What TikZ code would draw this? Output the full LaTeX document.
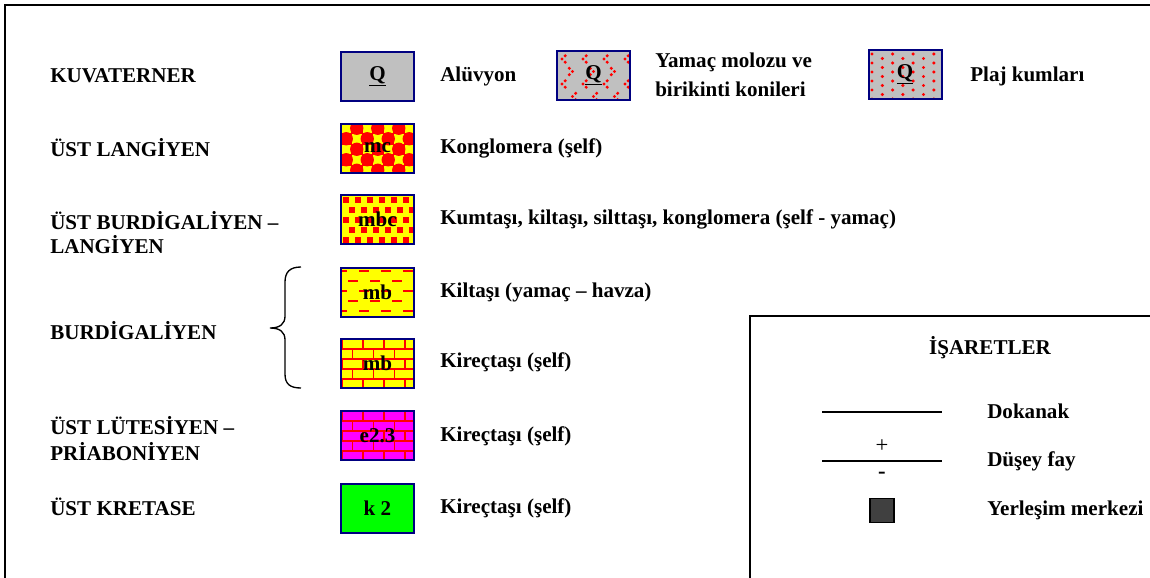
\documentclass[tikz,border=0pt]{standalone}
\usepackage{fontspec}
\setmainfont{Liberation Serif}
\definecolor{navy}{RGB}{0,0,128}
\definecolor{swgray}{RGB}{192,192,192}
\definecolor{lred}{RGB}{255,0,0}
\definecolor{lyellow}{RGB}{255,255,0}
\definecolor{lmagenta}{RGB}{255,0,255}
\definecolor{lgreen}{RGB}{0,255,0}
\definecolor{settle}{RGB}{64,64,64}
\begin{document}
\begin{tikzpicture}[x=0.75pt,y=-0.75pt,font=\fontsize{15.8}{17.5}\selectfont\bfseries]
\useasboundingbox (0,0) rectangle (1150,578);
\tikzset{
  lbl/.style={anchor=west,inner sep=0pt,align=left},
  frameline/.style={line width=1.5pt,black},
  swatch/.style={draw=navy,line width=1.5pt,minimum width=54.75pt,minimum height=36.75pt,inner sep=0pt},
  brickline/.style={lred,line width=1.4pt},
}
% outer frame (runs off the page on the right and bottom)
\draw[frameline] (1200,5) -- (5,5) -- (5,620);

% ---------- KUVATERNER ----------
\node[lbl] (kuv) at (50,76) {KUVATERNER};
\fill[swgray] (341,52) rectangle (414,101);
\node[swatch] (qa) at (377.5,76.5) {\underline{Q}};
\node[lbl] (qat) at (440,76) {Alüvyon};

\begin{scope}
  \clip (557,51) rectangle (630,100);
  \fill[swgray] (557,51) rectangle (630,100);
  \foreach \j in {0,...,3} \foreach \i in {0,...,3} {
    \pgfmathsetmacro\cx{557+5+\i*21+mod(\j,2)*10.5}
    \pgfmathsetmacro\cy{51+8+\j*12.5}
    \pgfmathsetmacro\dd{ifthenelse(mod(\j,3)==1,-1,1)}
    \fill[lred] (\cx,\cy) circle[radius=1.3pt]
      ({\cx+3.2*\dd},{\cy-3.2}) circle[radius=1.3pt]
      ({\cx+3.2*\dd},{\cy+3.2}) circle[radius=1.3pt];
  }
\end{scope}
\node[swatch] (qy) at (593.5,75.5) {\underline{Q}};
\node[lbl] (qyt) at (655,75) {Yamaç molozu ve\\[4pt]birikinti konileri};

\begin{scope}
  \clip (868,50) rectangle (942,99);
  \fill[swgray] (868,50) rectangle (942,99);
  \foreach \j in {0,...,5} \foreach \i in {0,...,7} {
    \fill[lred] ({868+4+\i*10.3},{50+4+\j*9+mod(\i,2)*4.5}) circle[radius=1.3pt];
  }
\end{scope}
\node[swatch] (qp) at (905,74.5) {\underline{Q}};
\node[lbl] (qpt) at (970,76) {Plaj kumları};

% ---------- ÜST LANGİYEN ----------
\node[lbl] (ul) at (50,148) {ÜST LANGİYEN};
\begin{scope}
  \clip (341,123) rectangle (414,173);
  \fill[lred] (341,123) rectangle (414,173);
  \foreach \i in {0,...,7} \foreach \j in {0,...,5} {
    \pgfmathtruncatemacro\pc{mod(\i+\j,2)}
    \ifnum\pc=0
      \fill[lyellow] ({341+\i*10.5+0.5},{123+\j*10.5+0.5}) rectangle ++(9.5,9.5);
    \fi
  }
  \foreach \i in {0,...,7} \foreach \j in {0,...,5} {
    \pgfmathtruncatemacro\pc{mod(\i+\j,2)}
    \ifnum\pc=1
      \fill[lred] ({341+\i*10.5+5.25},{123+\j*10.5+5.25}) circle[radius=5pt];
    \fi
  }
\end{scope}
\node[swatch] (mc) at (377.5,148) {mc};
\node[lbl] (mct) at (440,148) {Konglomera (şelf)};

% ---------- ÜST BURDİGALİYEN – LANGİYEN ----------
\node[lbl] (ubl) at (50,232.5) {ÜST BURDİGALİYEN –\\[0pt]LANGİYEN};
\begin{scope}
  \clip (341,195) rectangle (414,244);
  \fill[lyellow] (341,195) rectangle (414,244);
  \foreach \j in {0,...,4} \foreach \i in {0,...,6} {
    \fill[lred] ({341+2+\i*12+mod(\j,2)*6},{195+2+\j*10}) rectangle ++(6,6);
  }
\end{scope}
\node[swatch] (mbc) at (377.5,219.5) {mbc};
\node[lbl] (mbct) at (440,219) {Kumtaşı, kiltaşı, silttaşı, konglomera (şelf - yamaç)};

% ---------- BURDİGALİYEN ----------
\node[lbl] (bur) at (50,331) {BURDİGALİYEN};
\draw[line width=1pt] (301,267) .. controls (290,267) and (285,272) .. (285,282)
  -- (285,316) .. controls (285,324) and (280,328) .. (270,328)
  .. controls (280,328) and (285,332) .. (285,340)
  -- (285,374) .. controls (285,384) and (290,388) .. (301,388);

\begin{scope}
  \clip (341,268) rectangle (414,316);
  \fill[lyellow] (341,268) rectangle (414,316);
  \foreach \j in {0,...,4} \foreach \i in {0,...,4} {
    \draw[lred,line width=2.2pt] ({341+\i*22+mod(\j,2)*11-4},{268+3+\j*10}) -- ++(10,0);
  }
\end{scope}
\node[swatch] (mb1) at (377.5,292) {mb};
\node[lbl] (mb1t) at (440,292) {Kiltaşı (yamaç – havza)};

\begin{scope}
  \clip (341,339) rectangle (414,388);
  \fill[lyellow] (341,339) rectangle (414,388);
  \foreach \k in {0,...,4} {
    \draw[brickline] (341,{339+\k*10}) -- (414,{339+\k*10});
    \foreach \m in {0,...,3}
      \draw[brickline] ({341+1+\m*21+mod(\k,2)*10.5},{339+\k*10}) -- ++(0,10);
  }
\end{scope}
\node[swatch] (mb2) at (377.5,363.5) {mb};
\node[lbl] (mb2t) at (440,362) {Kireçtaşı (şelf)};

% ---------- ÜST LÜTESİYEN – PRİABONİYEN ----------
\node[lbl] (ulp) at (50,438.5) {ÜST LÜTESİYEN –\\[2pt]PRİABONİYEN};
\begin{scope}
  \clip (341,411) rectangle (414,460);
  \fill[lmagenta] (341,411) rectangle (414,460);
  \foreach \k in {0,...,4} {
    \draw[brickline] (341,{411+\k*10}) -- (414,{411+\k*10});
    \foreach \m in {0,...,3}
      \draw[brickline] ({341+1+\m*21+mod(\k,2)*10.5},{411+\k*10}) -- ++(0,10);
  }
\end{scope}
\node[swatch] (e23) at (377.5,435.5) {e2.3};
\node[lbl] (e23t) at (440,436) {Kireçtaşı (şelf)};

% ---------- ÜST KRETASE ----------
\node[lbl] (uk) at (50,507) {ÜST KRETASE};
\node[swatch,fill=lgreen] (k2) at (377.5,508) {k 2};
\node[lbl] (k2t) at (440,508) {Kireçtaşı (şelf)};

% ---------- İŞARETLER ----------
\draw[frameline] (750,620) -- (750,316) -- (1200,316);
\node (isr) at (990,348) {İŞARETLER};
\coordinate (dka) at (822,412);
\coordinate (dkb) at (942,412);
\draw[line width=1pt] (dka) -- (dkb);
\node[lbl] (dkt) at (987,411) {Dokanak};
\coordinate (dfa) at (822,461);
\coordinate (dfb) at (942,461);
\draw[line width=1pt] (dfa) -- (dfb);
\node[font=\fontsize{17}{18}\selectfont,inner sep=0pt] (plus) at (882,446) {+};
\node[font=\fontsize{17}{18}\selectfont\bfseries,inner sep=0pt] (minus) at (882,475) {-};
\node[lbl] (dft) at (987,461) {Düşey fay};
\node[draw=black,fill=settle,line width=0.8pt,minimum size=18pt,inner sep=0pt] (ym) at (882,510.5) {};
\node[lbl] (ymt) at (987,510) {Yerleşim merkezi};
\end{tikzpicture}
\end{document}
